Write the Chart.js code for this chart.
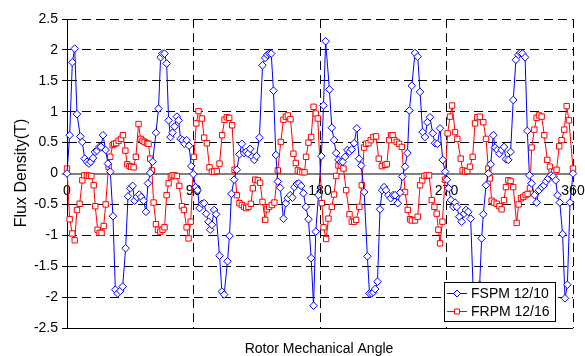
<!DOCTYPE html>
<html>
<head>
<meta charset="utf-8">
<script src="https://cdn.jsdelivr.net/npm/chart.js"></script>
<style>
  html, body { margin: 0; padding: 0; background: #fff; }
</style>
</head>
<body>
<canvas id="fluxChart" width="585" height="356"></canvas>
<script>
// x-axis labels, drawn on the zero line like the original
const xTickLabels = [0, 90, 180, 270, 360];
const seriesNames = ['FSPM 12/10', 'FRPM 12/16'];

// FSPM 12/10 (rotor angle in degrees, flux density in T)
const fspmAngle = [
    0, 1.9, 3.8, 5.5, 7.1, 9.5, 10.9, 12.6, 14.2, 15.6,
    17, 18.5, 19.9, 21.3, 23, 24.2, 25.6, 27.5, 29.1, 30.8,
    32.7, 34.4, 36, 37.9, 39.6, 41.7, 43.4, 45, 46.7, 48.1,
    49.8, 51.4, 52.8, 54.5, 56.2, 57.6, 59.2, 60.9, 63.3, 65.1,
    66.6, 68, 69.4, 70.9, 72.3, 73.7, 75.1, 76.5, 78.2, 79.4,
    80.8, 82.2, 83.6, 85.1, 86.8, 88.4, 89.9, 91.5, 92.9, 94.3,
    96, 97.6, 99, 100.7, 101.9, 103.1, 104.7, 106.1, 108.5, 110.2,
    111.8, 114.2, 115.6, 117, 118.9, 120.8, 122.7, 124.4, 126, 127.5,
    128.9, 130.3, 131.8, 133.2, 134.8, 136.9, 139.1, 141, 142.5, 143.8,
    145.3, 146.9, 148.6, 150, 151.7, 154, 155.7, 157.1, 158.8, 160.4,
    161.8, 163.5, 165, 166.6, 168.2, 169.9, 171.8, 173.7, 175.4, 177,
    178.9, 181, 182.5, 184, 186.7, 188.4, 190, 191.5, 193.1, 194.8,
    196.2, 197.9, 199.5, 201, 202.6, 204.3, 206.2, 207.8, 209.3, 211.4,
    213.7, 215.2, 216.8, 218, 219.2, 220.9, 222.7, 224.2, 225.6, 227,
    228.7, 230.3, 232, 233.4, 235.3, 237, 238.6, 240.5, 242.2, 243.6,
    245.3, 247.6, 249.5, 251.2, 253, 254.7, 256.4, 258.2, 260.2, 261.8,
    263.5, 265.4, 267.3, 269, 270.3, 271.5, 273.2, 274.9, 276.1, 277.3,
    279.1, 280.8, 282.5, 283.9, 285.5, 287.2, 289, 290.6, 292.2, 293.6,
    295, 296.2, 298.1, 299.8, 301.4, 303.3, 304.5, 306.2, 307.6, 309.2,
    310.9, 312.3, 314, 315.6, 317.5, 319.4, 321.1, 322.5, 324, 325.9,
    327.5, 329, 330.5, 332.6, 334.1, 335.8, 337.7, 339.3, 340.8, 342.4,
    344.3, 346, 347.7, 349, 350.6, 352.6, 354.3, 356, 357.9, 360
];
const fspmFlux = [
    0, 0.62, 1.8, 2.02, 0.96, 0.6, 0.51, 0.24, 0.19, 0.16,
    0.19, 0.25, 0.35, 0.37, 0.43, 0.43, 0.62, 0.38, 0.16, 0.03,
    -0.69, -1.88, -1.94, -1.9, -1.83, -1.21, -0.37, -0.24, -0.2, -0.44,
    -0.38, -0.34, -0.38, -0.44, -0.62, -0.16, 0.01, 0.19, 0.66, 1.05,
    1.88, 1.94, 1.94, 1.78, 0.86, 0.59, 0.66, 0.76, 0.92, 0.86,
    0.56, 0.54, 0.48, 0.54, 0.45, 0.12, -0.01, -0.22, -0.27, -0.56,
    -0.49, -0.48, -0.65, -0.78, -0.91, -0.83, -0.59, -0.66, -1.33, -1.91,
    -1.96, -1.42, -1.01, -0.33, -0.1, 0.06, 0.31, 0.48, 0.33, 0.35,
    0.32, 0.4, 0.27, 0.22, 0.28, 0.58, 1.75, 1.87, 1.92, 1.94,
    1.94, 1.34, 0.3, -0.13, -0.23, -0.73, -0.48, -0.4, -0.35, -0.39,
    -0.22, -0.17, -0.16, -0.2, -0.32, -0.54, -0.74, -1.37, -2.14, -0.94,
    -0.35, 0.28, 1.1, 2.14, 1.36, 0.74, 0.54, 0.33, 0.22, 0.19,
    0.19, 0.27, 0.38, 0.35, 0.39, 0.49, 0.73, 0.24, 0.13, -0.3,
    -1.34, -1.94, -1.94, -1.92, -1.87, -1.75, -0.58, -0.27, -0.22, -0.27,
    -0.35, -0.4, -0.35, -0.35, -0.48, -0.31, -0.05, 0.11, 0.33, 1.02,
    1.42, 1.95, 1.89, 1.32, 0.67, 0.59, 0.83, 0.91, 0.65, 0.49,
    0.48, 0.73, 0.22, 0.03, -0.1, -0.24, -0.43, -0.54, -0.47, -0.54,
    -0.7, -0.78, -0.65, -0.59, -0.62, -0.73, -1.9, -1.95, -1.92, -1.8,
    -1.05, -0.66, -0.19, 0, 0.15, 0.62, 0.42, 0.38, 0.32, 0.38,
    0.43, 0.23, 0.22, 0.35, 1.19, 1.84, 1.92, 1.95, 1.94, 1.88,
    0.69, -0.03, -0.16, -0.35, -0.47, -0.27, -0.22, -0.19, -0.13, -0.08,
    -0.03, -0.05, -0.11, -0.35, -0.47, -0.98, -2.02, -1.8, -0.47, 0
];

// FRPM 12/16
const frpmAngle = [
    0, 1.9, 3.8, 5.5, 7.1, 9, 10.9, 12.3, 14.2, 15.6,
    17.3, 19, 20.1, 21.8, 23.2, 24.6, 26.1, 27.5, 29.6, 30.8,
    32.5, 33.6, 35, 36.7, 38.4, 39.8, 41.5, 42.9, 44.4, 45.7,
    47.4, 49, 50.9, 52.4, 53.8, 55.2, 56.9, 58, 59.2, 60.4,
    61.6, 63.3, 64.7, 66.4, 68, 69.4, 70.9, 72.3, 73.9, 75.1,
    76.5, 78.2, 79.9, 81.8, 83.2, 85.1, 86.5, 88, 90.3, 92,
    93.6, 96, 97.6, 99.5, 101.4, 103.1, 104.7, 106.6, 108.5, 110.4,
    112.1, 113.7, 115.4, 117.5, 119.2, 120.9, 122.7, 124.4, 126, 127.5,
    129.1, 130.8, 132.2, 133.9, 135.8, 137.4, 139.1, 141, 142.2, 143.8,
    145.7, 147.6, 150, 152.1, 154, 155.7, 157.1, 159, 161.1, 162.8,
    164.2, 165.9, 167.5, 169, 170.1, 171.8, 173.7, 175.4, 177, 178.4,
    181.3, 182.5, 184.4, 186, 188.4, 190, 191.5, 193.1, 194.8, 196.7,
    198.6, 201, 202.6, 204.3, 205.7, 208, 209.7, 211.4, 212.8, 214.5,
    216.1, 218, 219.9, 221.8, 224, 226.3, 227.5, 229.2, 230.6, 231.7,
    232.9, 234.6, 236.3, 238.2, 240.5, 242.4, 244.1, 245.3, 247.6, 249.5,
    251.2, 252.8, 254.3, 255.9, 257.6, 259.5, 261.4, 263, 264.2, 265.4,
    267.1, 268.9, 270.8, 272.5, 274, 276.1, 277.7, 280.1, 281.5, 283.2,
    284.8, 286.7, 288.6, 290.3, 291.9, 293.8, 296.2, 298.1, 299.8, 300.9,
    302.1, 303.8, 305.7, 307.6, 309.2, 310.9, 312.3, 314, 315.6, 317.5,
    319.9, 321.3, 323, 324.6, 326.3, 327.7, 329.4, 330.6, 332.5, 334.1,
    335.8, 337.7, 339.6, 341.7, 343.6, 344.8, 346.7, 348.3, 350.2, 351.9,
    353.8, 355.5, 357.1, 360
];
const frpmFlux = [
    0.08, -0.74, -0.97, -1.08, -0.59, -0.49, -0.11, -0.03, -0.03, -0.04,
    -0.04, -0.19, -0.53, -0.91, -0.96, -0.96, -0.85, -0.5, 0.11, 0.27,
    0.46, 0.48, 0.49, 0.53, 0.56, 0.62, 0.37, 0.15, 0.12, 0.11,
    0.1, 0.27, 0.8, 0.56, 0.53, 0.51, 0.49, 0.48, 0.24, 0.05,
    -0.47, -0.82, -0.91, -0.94, -0.91, -0.87, -0.35, -0.16, -0.05, -0.03,
    -0.03, -0.04, -0.2, -0.53, -0.59, -0.87, -1.05, -0.78, 0.27, 0.81,
    1.01, 0.89, 0.58, 0.49, 0.1, 0.03, 0.03, 0.04, 0.16, 0.62,
    0.87, 0.91, 0.9, 0.78, 0.06, -0.35, -0.48, -0.51, -0.54, -0.56,
    -0.54, -0.49, -0.24, -0.1, -0.11, -0.15, -0.46, -0.75, -0.58, -0.54,
    -0.51, -0.47, 0.05, 0.51, 0.87, 0.92, 0.94, 0.88, 0.32, 0.17,
    0.05, 0.03, 0.02, 0.02, 0.27, 0.5, 0.59, 1.08, 0.97, 0.89,
    -0.48, -0.87, -1.06, -0.73, -0.54, -0.34, -0.04, 0.13, 0.13, 0.08,
    -0.27, -0.66, -0.78, -0.78, -0.75, -0.54, -0.19, 0.42, 0.48, 0.49,
    0.54, 0.59, 0.6, 0.24, 0.12, 0.14, 0.15, 0.54, 0.62, 0.62,
    0.54, 0.51, 0.48, 0.43, -0.3, -0.59, -0.74, -0.76, -0.76, -0.7,
    -0.19, -0.11, -0.04, -0.03, -0.03, -0.43, -0.54, -0.65, -0.91, -1.13,
    -0.78, -0.1, 0.65, 0.92, 1.1, 0.67, 0.56, 0.24, 0.05, 0.03,
    0.04, 0.11, 0.27, 0.81, 0.91, 0.92, 0.83, 0.56, 0.08, -0.08,
    -0.44, -0.47, -0.49, -0.53, -0.58, -0.43, -0.22, -0.11, -0.12, -0.22,
    -0.8, -0.5, -0.4, -0.38, -0.35, -0.33, -0.24, 0.42, 0.71, 0.9,
    0.94, 0.92, 0.62, 0.22, 0.11, 0.03, 0.03, 0.06, 0.44, 0.54,
    0.71, 1.09, 0.86, 0.08
];

const FONT = '"Liberation Sans", Arial, sans-serif';
const BLUE = '#0000ff';
const RED = '#ff0000';
const DASH = [9, 5];

function toPoints(angles, values) {
    return angles.map((a, i) => ({ x: a, y: values[i] }));
}

// small marker shapes for the legend
function legendMarker(ctx, style, x, y, color) {
    ctx.beginPath();
    if (style === 'rectRot') {
        ctx.moveTo(x, y - 3.5);
        ctx.lineTo(x + 3.5, y);
        ctx.lineTo(x, y + 3.5);
        ctx.lineTo(x - 3.5, y);
        ctx.closePath();
    } else {
        ctx.rect(x - 2.5, y - 2.5, 5, 5);
    }
    ctx.fillStyle = '#fff';
    ctx.fill();
    ctx.strokeStyle = color;
    ctx.lineWidth = 1;
    ctx.stroke();
}

// axis labels on the zero line, titles and the boxed legend
const excelDecor = {
    id: 'excelDecor',
    beforeDatasetsDraw(chart) {
        const { ctx, scales: { x, y } } = chart;
        const y0 = y.getPixelForValue(0);
        ctx.save();
        ctx.fillStyle = '#000';
        ctx.font = '14px ' + FONT;
        ctx.textAlign = 'center';
        ctx.textBaseline = 'alphabetic';
        xTickLabels.forEach(v => {
            ctx.fillText(String(v), x.getPixelForValue(v), y0 + 21);
        });
        ctx.restore();
    },
    afterDraw(chart) {
        const { ctx } = chart;
        ctx.save();
        ctx.fillStyle = '#000';

        // x title
        ctx.font = '14px ' + FONT;
        ctx.textAlign = 'center';
        ctx.textBaseline = 'alphabetic';
        ctx.fillText('Rotor Mechanical Angle', 319, 352.5);

        // y title
        ctx.save();
        ctx.translate(21.5, 173);
        ctx.rotate(-Math.PI / 2);
        ctx.font = '16px ' + FONT;
        ctx.textBaseline = 'middle';
        ctx.fillText('Flux Density(T)', 0, 0);
        ctx.restore();

        // legend box
        const lx = 444.5, ly = 282.5, lw = 111, lh = 39;
        ctx.fillStyle = '#fff';
        ctx.fillRect(lx, ly, lw, lh);
        ctx.strokeStyle = '#000';
        ctx.lineWidth = 1;
        ctx.strokeRect(lx, ly, lw, lh);

        chart.data.datasets.forEach((ds, i) => {
            const cy = 293.5 + i * 18;
            ctx.strokeStyle = ds.borderColor;
            ctx.lineWidth = 1;
            ctx.beginPath();
            ctx.moveTo(447, cy);
            ctx.lineTo(467, cy);
            ctx.stroke();
            legendMarker(ctx, ds.pointStyle, 457, cy, ds.borderColor);

            ctx.fillStyle = '#000';
            ctx.font = '14px ' + FONT;
            ctx.textAlign = 'left';
            ctx.textBaseline = 'middle';
            ctx.fillText(seriesNames[i], 471, cy + 0.5);
        });
        ctx.restore();
    }
};

const ctx = document.getElementById('fluxChart').getContext('2d');
const fluxChart = new Chart(ctx, {
    type: 'line',
    data: {
        datasets: [{
            label: seriesNames[0],
            data: toPoints(fspmAngle, fspmFlux),
            borderColor: BLUE,
            borderWidth: 1,
            pointStyle: 'rectRot',
            pointRadius: 3.8,
            pointBorderColor: BLUE,
            pointBackgroundColor: '#fff',
            pointBorderWidth: 1,
            tension: 0,
            clip: false
        }, {
            label: seriesNames[1],
            data: toPoints(frpmAngle, frpmFlux),
            borderColor: RED,
            borderWidth: 1,
            pointStyle: 'rect',
            pointRadius: 3.8,
            pointBorderColor: RED,
            pointBackgroundColor: '#fff',
            pointBorderWidth: 1,
            tension: 0,
            clip: false
        }]
    },
    options: {
        responsive: false,
        animation: false,
        events: [],
        layout: {
            padding: { left: 0, right: 12, top: 19, bottom: 28 }
        },
        scales: {
            x: {
                type: 'linear',
                min: 0,
                max: 360,
                afterFit: s => { s.height = 0; },
                ticks: { stepSize: 90, display: false },
                grid: {
                    color: c => (c.tick && c.tick.value === 0) ? 'rgba(0,0,0,0)' : '#000',
                    lineWidth: 1,
                    drawTicks: false
                },
                border: { display: false, dash: DASH }
            },
            y: {
                min: -2.5,
                max: 2.5,
                afterFit: s => { s.width = 67; },
                ticks: {
                    stepSize: 0.5,
                    color: '#000',
                    padding: 4,
                    font: { family: FONT, size: 14 },
                    callback: v => String(Math.round(v * 10) / 10)
                },
                grid: {
                    color: c => (c.tick && c.tick.value === 0) ? '#808080' : '#000',
                    lineWidth: c => (c.tick && c.tick.value === 0) ? 2 : 1,
                    tickColor: '#000',
                    tickWidth: 1,
                    tickLength: 5
                },
                border: {
                    display: true,
                    color: '#000',
                    width: 1,
                    dash: c => (c.tick && (c.tick.value === 0 || c.tick.value === -2.5)) ? [] : DASH
                }
            }
        },
        plugins: {
            legend: { display: false },
            tooltip: { enabled: false }
        }
    },
    plugins: [excelDecor]
});
</script>
</body>
</html>
